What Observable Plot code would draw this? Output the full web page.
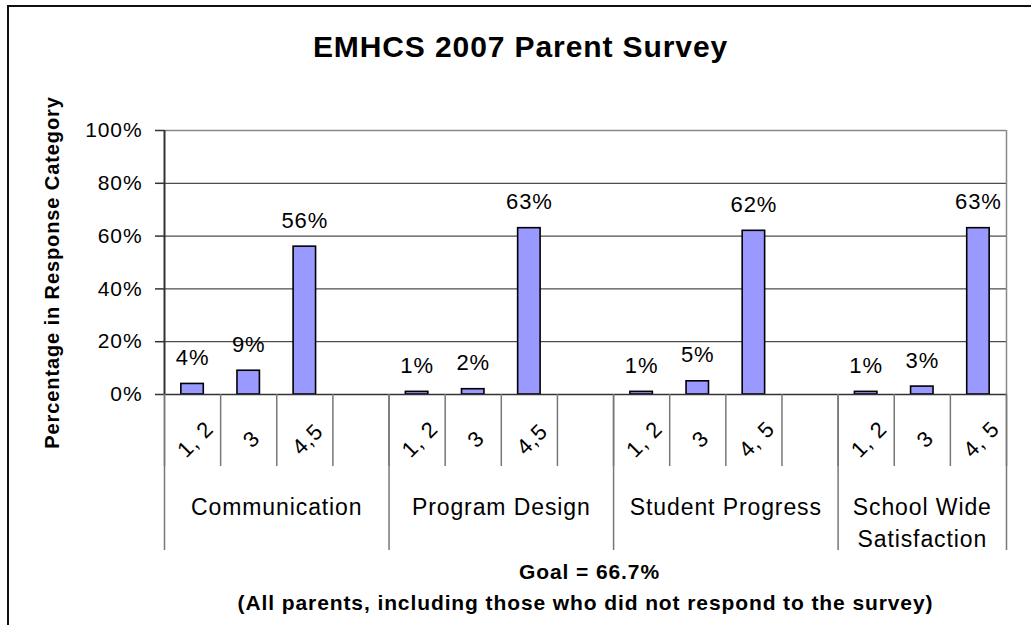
<!DOCTYPE html>
<html>
<head>
<meta charset="utf-8">
<script src="https://cdn.jsdelivr.net/npm/d3@7"></script>
<script src="https://cdn.jsdelivr.net/npm/@observablehq/plot@0.6"></script>
<style>
  html, body { margin: 0; padding: 0; background: #fff; overflow: hidden; }
  #wrap { position: relative; width: 1031px; height: 625px; }
  #border { position: absolute; left: 7px; top: 5px; width: 1100px; height: 700px; border: 2px solid #111; pointer-events: none; }
  #chart svg text { letter-spacing: 0.9px; }
</style>
</head>
<body>
<div id="wrap">
  <div id="chart"></div>
  <div id="border"></div>
</div>
<script>
const title = "EMHCS 2007 Parent Survey";
const yLabel = "Percentage in Response Category";
const goalText = "Goal = 66.7%";
const noteText = "(All parents, including those who did not respond to the survey)";
const groups = ["Communication", "Program Design", "Student Progress", "School Wide\nSatisfaction"];
const responseLabels = [
  ["1, 2", "3", "4,5"],
  ["1, 2", "3", "4,5"],
  ["1, 2", "3", "4, 5"],
  ["1, 2", "3", "4, 5"]
];
const values = [
  [0.04, 0.09, 0.56],
  [0.01, 0.02, 0.63],
  [0.01, 0.05, 0.62],
  [0.01, 0.03, 0.63]
];
const yTicks = [0, 0.2, 0.4, 0.6, 0.8, 1];

// Build table: each group occupies 4 slots (3 responses + 1 empty spacer), last group has no spacer
const rows = [];
groups.forEach((g, i) => {
  responseLabels[i].forEach((lab, j) => {
    rows.push({group: g, label: lab, value: values[i][j], slot: i * 4 + j});
  });
});
const nSlots = groups.length * 4 - 1;
const groupRows = groups.map((g, i) => {
  const start = i * 4;
  const end = Math.min(start + 4, nSlots);
  return {group: g, start, end, center: (start + end) / 2};
});
const slotEdges = d3.range(nSlots + 1);
const groupEdges = [...groupRows.map(d => d.start), nSlots];

const font = "'Liberation Sans', Arial, sans-serif";

const chart = Plot.plot({
  width: 1031,
  height: 625,
  marginLeft: 164,
  marginRight: 25,
  marginTop: 130,
  marginBottom: 231,
  style: {fontFamily: font, background: "transparent", color: "#000"},
  x: {type: "linear", domain: [0, nSlots], axis: null},
  y: {domain: [0, 1], axis: null},
  marks: [
    // gridlines
    Plot.ruleY(yTicks.filter(d => d > 0 && d < 1), {stroke: "#222", strokeWidth: 1}),
    Plot.ruleY([1], {stroke: "#888", strokeWidth: 1.5}),
    Plot.ruleX([nSlots], {y1: 0, y2: 1, stroke: "#888", strokeWidth: 1.5}),
    // bars
    Plot.rectY(rows, {x1: d => d.slot + 0.3, x2: d => d.slot + 0.7, y: "value", fill: "#9999FF", stroke: "#000", strokeWidth: 1.6}),
    // axis lines
    Plot.ruleY([0], {stroke: "#333", strokeWidth: 1.5}),
    Plot.ruleX([0], {y1: 0, y2: 1, stroke: "#333", strokeWidth: 2}),
    Plot.axisY({ticks: yTicks, tickFormat: d3.format(".0%"), tickSize: 9, tickPadding: 13, fontSize: 21, label: null, stroke: "#333", strokeWidth: 1.5}),
    // category dividers below axis
    Plot.axisX({ticks: slotEdges, tickSize: 72, tickFormat: () => "", label: null, stroke: "#777", strokeWidth: 1.5}),
    Plot.axisX({ticks: groupEdges, tickSize: 156, tickFormat: () => "", label: null, stroke: "#777", strokeWidth: 1.5}),
    // value labels
    Plot.text(rows, {x: d => d.slot + 0.5, y: "value", text: d => d3.format(".0%")(d.value), dy: -26, fontSize: 22}),
    // response labels (rotated)
    Plot.text(rows, {x: d => d.slot + 0.5, y: 0, text: "label", rotate: -45, dx: 3, dy: 45, fontSize: 22}),
    // group labels
    Plot.text(groupRows, {x: "center", y: 0, text: "group", lineAnchor: "top", dy: 98, fontSize: 23, lineHeight: 1.38}),
    // title, axis label, notes
    Plot.text([title], {frameAnchor: "top", textAnchor: "middle", lineAnchor: "middle", dx: -65, dy: -83, fontSize: 30, fontWeight: "bold"}),
    Plot.text([yLabel], {frameAnchor: "left", textAnchor: "middle", lineAnchor: "middle", rotate: -90, dx: -112, dy: 10, fontSize: 20, fontWeight: "bold"}),
    Plot.text([goalText], {frameAnchor: "bottom", textAnchor: "middle", lineAnchor: "middle", dx: 4, dy: 178, fontSize: 21, fontWeight: "bold"}),
    Plot.text([noteText], {frameAnchor: "bottom", textAnchor: "middle", lineAnchor: "middle", dx: 0, dy: 209, fontSize: 21, fontWeight: "bold"})
  ]
});
document.getElementById("chart").appendChild(chart);
</script>
</body>
</html>
